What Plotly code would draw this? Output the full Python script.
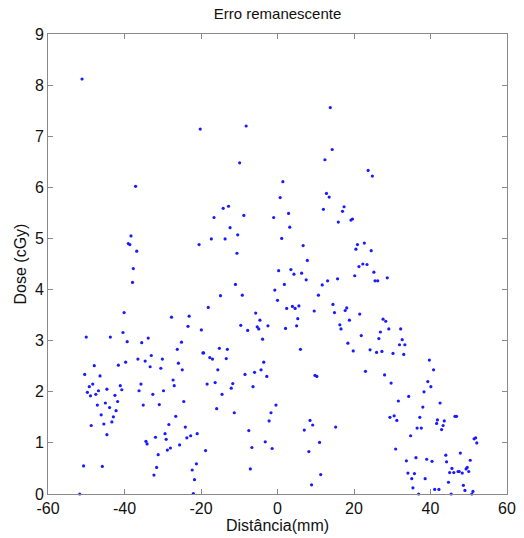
import plotly.graph_objects as go

# Remaining dose error vs. distance (mm); x and y listed pairwise
dist_mm = [
    -51.1, -20.2, -8.2, 13.8, -9.9, 14.3, 12.4, 1.4, 23.7, 24.8,
    -37.1, -38.3, -39.0, -38.6, -36.8, -37.7, -37.9, -20.5, -40.1, -27.7,
    -23.1, -23.4, -40.4, -50.0, -43.7, -33.8, -19.9,
    0.7, 12.8, 13.5, 17.4, 17.0, 12.0, 15.9, 19.2, 19.6, -14.2,
    -12.8, -16.6, -8.8, -1.0, 2.9, -12.4, -10.4, -17.3, -13.7, 3.2,
    1.1, -10.6, 6.7, 7.8, 0.3, 3.5, 4.3, 6.3, 7.5, 20.2,
    15.7, 13.1, 11.7, 1.8, -0.7, -11.0, -9.2, -14.9, 10.7, 0.0,
    -18.1, 2.4, 3.9, 4.6, 5.6, 9.6, 14.5, 14.9, 18.1, 17.7,
    18.8, 16.3, 16.6, -5.7, -4.6, -9.6, -5.3, -4.9, -2.5, 5.3,
    5.0, 2.1, -7.8, -3.9,
    20.9, 22.7, 20.5, 24.5, 21.3, 22.3, 23.4, 25.2, 25.5, 26.2,
    28.7, 21.5, 27.6, 28.3, 29.1, 32.2, 26.9, 21.9, 26.5, 32.6,
    -39.3, -35.5, -25.1, -26.2, -33.0, -36.5, -34.6, -30.1, -39.7, -25.9,
    -41.6, -47.9, -33.3, -30.5, -24.9, -50.4, -46.4, -27.3, -35.7, -27.0,
    -48.3, -49.2, -41.1, -40.7, -44.6, -46.8, -36.2, -29.8, -49.7, -47.5,
    -48.9, -42.5, -32.6, -41.8, -45.0, -24.5, -47.1, -35.1, -30.9, -43.9,
    -42.2, -46.1, -42.9, -26.6, -45.4, -43.3, -48.7, -28.4, -24.1, -29.4,
    -31.9, -29.1, -23.7, -22.7, -21.0, -44.6, -34.4, -34.1, -25.6, -28.0,
    -28.8, -31.2, -21.2, -50.7, -45.8, -31.6, -22.3, -32.3, -21.7, -51.7,
    -22.0,
    -19.5, -19.3, -15.2, -13.1, -17.7, -17.0, -13.4, 6.0, 18.4, 19.8,
    -3.6, -15.6, -4.3, -6.0, -8.5, -2.8, 9.8, 10.3, -18.4, -16.3,
    -11.7, -12.1, -6.4, -14.5, -0.4, -15.9, -11.3, -1.7, -2.2, 8.5,
    9.2, 7.0, 15.2, -7.5, -3.2, 11.0, -6.7, -1.4, -18.8, 8.2,
    -7.1, 11.3, 8.9,
    31.9, 33.3, 24.2, 25.9, 27.3, 30.2, 33.0, 39.7, 40.8, 23.0,
    28.0, 29.7, 39.3, 40.1, 38.3, 34.3, 31.6, 42.5, 38.0, 29.4,
    30.5, 31.2, 37.2, 41.8, 43.6, 41.6, 43.3, 42.9, 46.4, 46.8,
    36.5, 37.6, 34.8, 51.4, 51.8, 52.1, 30.9, 44.0, 47.8, 33.7,
    36.2, 39.0, 40.4, 44.2, 50.4, 34.1, 35.8, 45.0, 46.1, 47.2,
    47.5, 48.3, 45.6, 49.3, 49.6, 50.0, 35.1, 38.6, 44.7, 35.4,
    48.6, 41.1, 42.2, 49.0, 36.9, 45.4, 50.8, 51.1,
]

dose_cgy = [
    8.12, 7.14, 7.20, 7.56, 6.48, 6.74, 6.54, 6.11, 6.33, 6.22,
    6.02, 5.05, 4.90, 4.88, 4.75, 4.41, 4.14, 4.88, 3.55, 3.46,
    3.48, 3.28, 3.16, 3.07, 3.07, 3.05, 3.21,
    5.80, 5.88, 5.81, 5.62, 5.53, 5.57, 5.32, 5.36, 5.38, 5.59,
    5.63, 5.41, 5.45, 5.41, 5.49, 5.21, 5.07, 4.99, 4.99, 5.22,
    5.00, 4.71, 4.86, 4.57, 4.37, 4.39, 4.30, 4.32, 4.19, 4.27,
    4.21, 4.17, 4.09, 4.10, 3.99, 4.10, 3.89, 3.88, 3.89, 3.79,
    3.65, 3.63, 3.67, 3.63, 3.68, 3.58, 3.71, 3.55, 3.64, 3.59,
    3.40, 3.31, 3.23, 3.54, 3.40, 3.30, 3.27, 3.23, 3.29, 3.43,
    3.29, 3.24, 3.20, 3.03,
    4.88, 4.91, 4.79, 4.76, 4.45, 4.50, 4.49, 4.34, 4.17, 4.17,
    4.23, 3.52, 3.42, 3.38, 3.23, 3.23, 3.17, 3.10, 3.04, 3.02,
    2.98, 2.96, 2.97, 2.83, 2.71, 2.64, 2.60, 2.64, 2.58, 2.56,
    2.52, 2.51, 2.49, 2.46, 2.43, 2.34, 2.31, 2.23, 2.15, 2.12,
    2.15, 2.10, 2.12, 2.04, 2.05, 2.02, 2.02, 2.02, 1.99, 1.95,
    1.92, 1.93, 1.95, 1.81, 1.78, 1.81, 1.74, 1.74, 1.75, 1.69,
    1.63, 1.55, 1.51, 1.52, 1.37, 1.41, 1.34, 1.36, 1.31, 1.18,
    1.11, 1.07, 1.10, 1.14, 1.18, 1.16, 1.03, 0.98, 0.96, 0.90,
    0.86, 0.77, 0.59, 0.55, 0.54, 0.52, 0.47, 0.37, 0.28, 0.00,
    0.01,
    2.76, 2.76, 2.85, 2.83, 2.67, 2.64, 2.65, 2.83, 2.95, 2.80,
    2.58, 2.43, 2.43, 2.38, 2.34, 2.30, 2.32, 2.30, 2.15, 2.18,
    2.16, 2.07, 2.10, 1.95, 1.74, 1.67, 1.59, 1.59, 1.43, 1.44,
    1.35, 1.25, 1.31, 1.24, 1.02, 1.01, 0.91, 0.89, 0.85, 0.83,
    0.49, 0.38, 0.18,
    2.92, 2.92, 2.82, 2.77, 2.79, 2.75, 2.73, 2.62, 2.43, 2.40,
    2.33, 2.17, 2.20, 2.10, 2.00, 1.91, 1.82, 1.78, 1.70, 1.50,
    1.53, 1.44, 1.50, 1.45, 1.43, 1.38, 1.34, 1.26, 1.52, 1.52,
    1.29, 1.29, 1.14, 1.08, 1.10, 1.00, 0.88, 0.76, 0.80, 0.65,
    0.71, 0.68, 0.64, 0.63, 0.66, 0.41, 0.40, 0.42, 0.42, 0.44,
    0.44, 0.41, 0.50, 0.49, 0.52, 0.44, 0.30, 0.30, 0.23, 0.12,
    0.17, 0.09, 0.09, 0.07, 0.00, 0.00, 0.00, 0.05,
]

x_ticks = [-60, -40, -20, 0, 20, 40, 60]
y_ticks = [0, 1, 2, 3, 4, 5, 6, 7, 8, 9]

font_family = "Liberation Sans, Arial, sans-serif"

fig = go.Figure(
    go.Scatter(
        x=dist_mm,
        y=dose_cgy,
        mode="markers",
        marker=dict(size=3.2, color="#1a1aff", line=dict(width=0)),
        cliponaxis=False,
        showlegend=False,
    )
)

axis_common = dict(
    showgrid=False,
    zeroline=False,
    showline=True,
    linecolor="#8a8a8a",
    linewidth=1,
    mirror="ticks",
    ticks="inside",
    ticklen=5,
    tickcolor="#8a8a8a",
    automargin=False,
    tickfont=dict(family=font_family, size=16, color="#111111"),
)

fig.update_layout(
    width=524,
    height=538,
    margin=dict(l=48, r=17, t=34, b=44),
    paper_bgcolor="white",
    plot_bgcolor="white",
    title=dict(
        text="Erro remanescente",
        x=0.5,
        xref="paper",
        xanchor="center",
        y=1 - 14 / 538,
        yanchor="middle",
        font=dict(family=font_family, size=15, color="#111111"),
    ),
    xaxis=dict(
        range=[-60, 60],
        tickvals=x_ticks,
        ticktext=[str(v) for v in x_ticks],
        title=dict(
            text="Distância(mm)",
            font=dict(family=font_family, size=16, color="#111111"),
            standoff=2,
        ),
        **axis_common,
    ),
    yaxis=dict(
        range=[0, 9],
        tickvals=y_ticks,
        ticktext=[str(v) for v in y_ticks],
        title=dict(
            text="Dose (cGy)",
            font=dict(family=font_family, size=16, color="#111111"),
            standoff=4,
        ),
        **axis_common,
    ),
)

fig.write_html("out.html")
